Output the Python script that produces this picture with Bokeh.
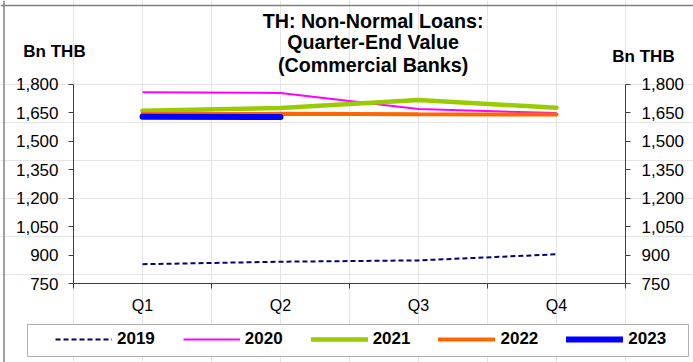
from bokeh.plotting import figure
from bokeh.models import (Range1d, LinearAxis, FixedTicker, NumeralTickFormatter,
                          Legend, LegendItem, Label, Span, BoxAnnotation)
from bokeh.embed import file_html
from bokeh.resources import INLINE

# ---- data ----
quarters = ["Q1", "Q2", "Q3", "Q4"]
y2019 = [853, 866, 873, 905]
y2020 = [1756, 1753, 1669, 1647]
y2021 = [1660, 1674, 1716, 1675]
y2022 = [1642, 1643, 1641, 1640]
y2023 = [1628, 1627]
y_ticks = [750, 900, 1050, 1200, 1350, 1500, 1650, 1800]
title_lines = ["TH: Non-Normal Loans:", "Quarter-End Value", "(Commercial Banks)"]
unit_label = "Bn THB"

# ---- layout (canvas pixels) ----
W, H = 693, 362
PL, PR, PT, PB = 73.0, 625.0, 83.5, 283.3   # plot-area edges on the canvas
Y0, Y1 = 750, 1800
NX = len(quarters)

sx = (PR - PL) / NX            # px per x unit
sy = (PB - PT) / (Y1 - Y0)     # px per y unit

def dx(px):
    return (px - PL) / sx

def dy(py):
    return Y0 + (PB - py) / sy

xpos = [i + 0.5 for i in range(NX)]

p = figure(width=W, height=H, output_backend="svg", toolbar_location=None,
           x_range=Range1d(dx(0), dx(W)), y_range=Range1d(dy(H), dy(0)),
           x_axis_location=None, y_axis_location=None,
           min_border_left=0, min_border_right=0, min_border_top=0,
           min_border_bottom=0)
p.outline_line_color = None
p.background_fill_color = "white"
p.border_fill_color = "white"

AX = "#404040"
FONT = "Liberation Sans"

# x axis
xa = LinearAxis(fixed_location=Y0, bounds=(0, NX))
xa.ticker = FixedTicker(ticks=xpos, minor_ticks=list(range(NX + 1)))
xa.major_label_overrides = {x: q for x, q in zip(xpos, quarters)}
xa.major_tick_out = 0
xa.major_tick_in = 0
xa.minor_tick_out = 5
xa.minor_tick_in = 0
xa.minor_tick_line_color = AX
xa.axis_line_color = AX
xa.major_label_text_font = FONT
xa.major_label_text_font_size = "16px"
xa.major_label_text_color = "black"
xa.major_label_standoff = 8
p.add_layout(xa, "below")

def make_y(loc, standoff):
    ax = LinearAxis(fixed_location=loc, bounds=(Y0, Y1))
    ax.ticker = FixedTicker(ticks=y_ticks)
    ax.formatter = NumeralTickFormatter(format="0,0")
    ax.major_tick_out = 5
    ax.major_tick_in = 0
    ax.minor_tick_out = 0
    ax.minor_tick_in = 0
    ax.axis_line_color = AX
    ax.major_tick_line_color = AX
    ax.major_label_text_font = FONT
    ax.major_label_text_font_size = "17px"
    ax.major_label_text_color = "black"
    ax.major_label_standoff = standoff
    return ax

p.add_layout(make_y(0, 10), "left")
p.add_layout(make_y(NX, 11), "right")

# ---- lines ----
r19 = p.line(xpos, y2019, line_color="#000080", line_width=2, line_dash="5 3")
r20 = p.line(xpos, y2020, line_color="#FF00FF", line_width=2)
r21 = p.line(xpos, y2021, line_color="#99CC00", line_width=4.5, line_cap="round")
r22 = p.line(xpos, y2022, line_color="#FF6600", line_width=4, line_cap="round")
r23 = p.line(xpos[:len(y2023)], y2023, line_color="#0000FF", line_width=6, line_cap="round")

# legend frame
p.add_layout(BoxAnnotation(left=dx(27), right=dx(688), top=dy(324), bottom=dy(356),
                           fill_color="white", fill_alpha=1, line_color="black",
                           line_width=1))

legend = Legend(items=[LegendItem(label="2019", renderers=[r19]),
                       LegendItem(label="2020", renderers=[r20]),
                       LegendItem(label="2021", renderers=[r21]),
                       LegendItem(label="2022", renderers=[r22]),
                       LegendItem(label="2023", renderers=[r23])],
                orientation="horizontal", location=(55, 13),
                glyph_width=57, glyph_height=20, label_standoff=5, spacing=28,
                padding=0, margin=0,
                border_line_color=None, background_fill_alpha=0,
                label_text_font=FONT, label_text_font_style="bold",
                label_text_font_size="17px", label_text_color="black")
p.add_layout(legend, "center")

# ---- outer frame lines ----
p.add_layout(Span(location=dx(3.5), dimension="height", line_color="#808080", line_width=1.5))
p.add_layout(Span(location=dy(5), dimension="width", line_color="#808080", line_width=1.5))

# ---- text ----
for line, cy in zip(title_lines, [20, 41.5, 64]):
    p.add_layout(Label(x=dx(372.6), y=dy(cy), text=line, text_align="center",
                       text_baseline="middle", text_font=FONT, text_font_style="bold",
                       text_font_size="19.7px", text_color="black"))

p.add_layout(Label(x=dx(54), y=dy(51), text=unit_label, text_align="center",
                   text_baseline="middle", text_font=FONT, text_font_style="bold",
                   text_font_size="17px", text_color="black"))
p.add_layout(Label(x=dx(643), y=dy(56), text=unit_label, text_align="center",
                   text_baseline="middle", text_font=FONT, text_font_style="bold",
                   text_font_size="17px", text_color="black"))

open("out.html", "w").write(file_html(p, INLINE))
